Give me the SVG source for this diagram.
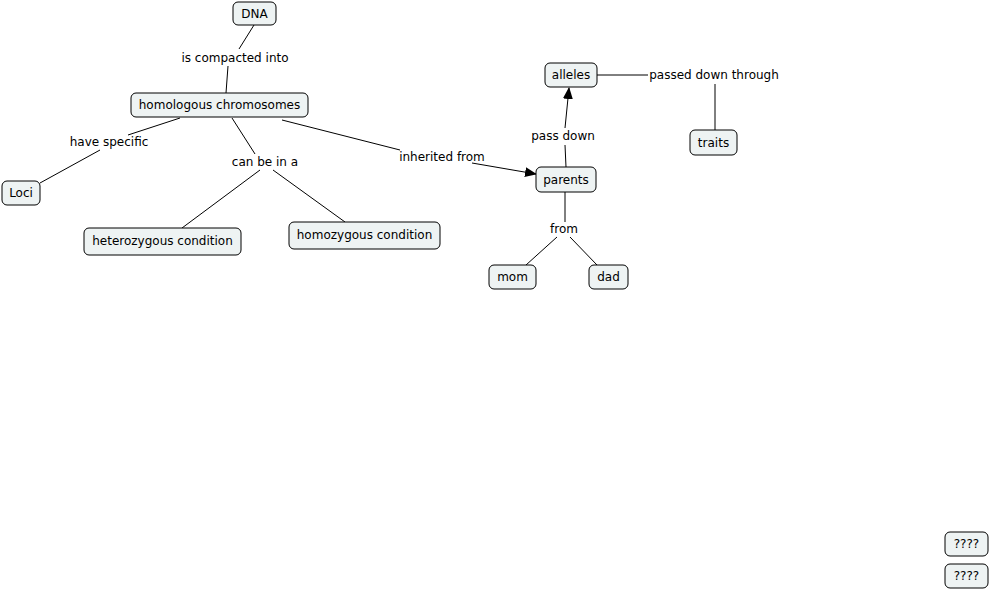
<svg xmlns="http://www.w3.org/2000/svg" width="990" height="591" viewBox="0 0 990 591">
<style>
.n rect{fill:#eef3f3;stroke:#000;stroke-width:1}
text{font-family:"DejaVu Sans",Verdana,sans-serif;font-size:12px;fill:#000;text-anchor:middle}
.c line{stroke:#000;stroke-width:1}
</style>
<defs><marker id="a" markerWidth="12" markerHeight="10" refX="11" refY="5" orient="auto" markerUnits="userSpaceOnUse"><path d="M0,0L12,5L0,10Z" fill="#000"/></marker></defs>
<rect width="990" height="591" fill="#fff"/>
<g class="c">
<line x1="254" y1="25" x2="239" y2="49"/><line x1="228" y1="66" x2="226" y2="93"/>
<line x1="180" y1="118" x2="128" y2="135"/><line x1="100" y1="150" x2="40" y2="183"/>
<line x1="232" y1="118" x2="255" y2="154"/><line x1="260" y1="170" x2="182" y2="228"/><line x1="273" y1="170" x2="345" y2="222"/>
<line x1="282" y1="120" x2="400" y2="150"/><line x1="472" y1="163" x2="536" y2="174" marker-end="url(#a)"/>
<line x1="566" y1="167" x2="565" y2="145"/><line x1="565" y1="128" x2="569" y2="88" marker-end="url(#a)"/>
<line x1="597" y1="75" x2="648" y2="75"/><line x1="715" y1="84" x2="715" y2="130"/>
<line x1="565" y1="192" x2="565" y2="222"/><line x1="557" y1="237" x2="526" y2="265"/><line x1="570" y1="237" x2="597" y2="265"/>
</g>
<g>
<text x="235" y="62">is compacted into</text>
<text x="109" y="146">have specific</text>
<text x="265" y="166">can be in a</text>
<text x="442" y="161">inherited from</text>
<text x="563" y="140">pass down</text>
<text x="714" y="79">passed down through</text>
<text x="564" y="233">from</text>
</g>
<g id="dna" class="n"><rect x="233" y="2" width="43" height="23" rx="5"/><text x="254.5" y="18">DNA</text></g>
<g id="hom" class="n"><rect x="131" y="93" width="177" height="24" rx="5"/><text x="219.5" y="109">homologous chromosomes</text></g>
<g id="loci" class="n"><rect x="2" y="181" width="38" height="24" rx="5"/><text x="21" y="197">Loci</text></g>
<g id="het" class="n"><rect x="84" y="228" width="157" height="27" rx="5"/><text x="162.5" y="245">heterozygous condition</text></g>
<g id="homo" class="n"><rect x="289" y="222" width="151" height="27" rx="5"/><text x="364.5" y="239">homozygous condition</text></g>
<g id="alleles" class="n"><rect x="545" y="63" width="52" height="24" rx="5"/><text x="571" y="79">alleles</text></g>
<g id="parents" class="n"><rect x="536" y="167" width="60" height="25" rx="5"/><text x="566" y="184">parents</text></g>
<g id="traits" class="n"><rect x="690" y="130" width="47" height="25" rx="5"/><text x="713.5" y="147">traits</text></g>
<g id="mom" class="n"><rect x="489" y="265" width="47" height="24" rx="5"/><text x="512.5" y="281">mom</text></g>
<g id="dad" class="n"><rect x="589" y="265" width="39" height="24" rx="5"/><text x="608.5" y="281">dad</text></g>
<g id="q1" class="n"><rect x="945" y="532" width="43" height="24" rx="5"/><text x="966.5" y="548">????</text></g>
<g id="q2" class="n"><rect x="945" y="564" width="43" height="24" rx="5"/><text x="966.5" y="580">????</text></g>
</svg>
